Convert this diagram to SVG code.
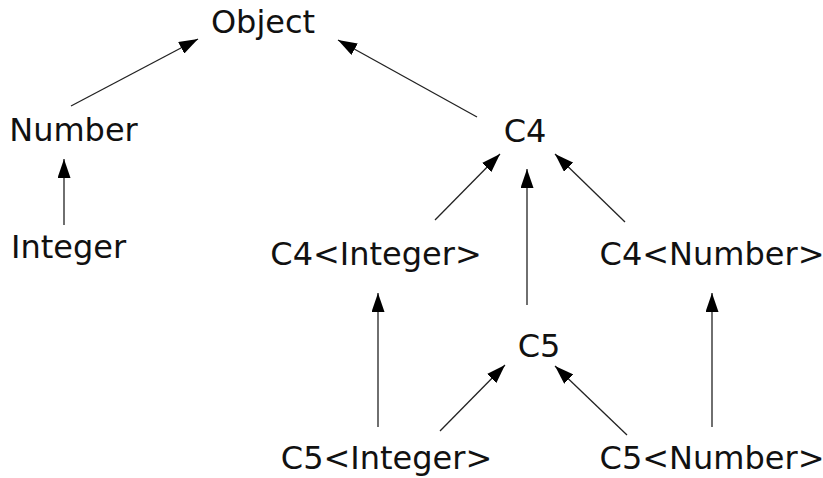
<svg xmlns="http://www.w3.org/2000/svg" width="823" height="478" viewBox="0 0 823 478">
<style>
text{font-family:"DejaVu Sans",sans-serif;font-size:32px;fill:#111;text-anchor:middle}
.e line{stroke:#222;stroke-width:1.3;marker-end:url(#ah)}
</style>
<defs>
<marker id="ah" viewBox="0 0 19 13" refX="19" refY="6.5" markerWidth="19" markerHeight="13" markerUnits="userSpaceOnUse" orient="auto">
<path d="M0,0 L19,6.5 L0,13 Z" fill="#000"/>
</marker>
</defs>
<rect width="823" height="478" fill="#fff"/>
<g class="e" id="connectors">
<line x1="71" y1="106" x2="198" y2="39"/>
<line x1="477" y1="117" x2="338" y2="40"/>
<line x1="64" y1="225" x2="64" y2="159"/>
<line x1="435" y1="220" x2="500" y2="154"/>
<line x1="527" y1="305" x2="527" y2="169"/>
<line x1="625" y1="222" x2="555" y2="154"/>
<line x1="378" y1="427" x2="378" y2="293"/>
<line x1="712" y1="427" x2="712" y2="293"/>
<line x1="440" y1="431" x2="505" y2="365"/>
<line x1="627" y1="435" x2="555" y2="366"/>
</g>
<g id="object"><text x="263" y="33">Object</text></g>
<g id="number"><text x="73.5" y="141">Number</text></g>
<g id="c4"><text x="525" y="142">C4</text></g>
<g id="integer"><text x="68.5" y="258">Integer</text></g>
<g id="c4-integer"><text x="376" y="265">C4&lt;Integer&gt;</text></g>
<g id="c4-number"><text x="712" y="265">C4&lt;Number&gt;</text></g>
<g id="c5"><text x="539" y="357">C5</text></g>
<g id="c5-integer"><text x="386.5" y="469">C5&lt;Integer&gt;</text></g>
<g id="c5-number"><text x="712" y="469">C5&lt;Number&gt;</text></g>
</svg>
